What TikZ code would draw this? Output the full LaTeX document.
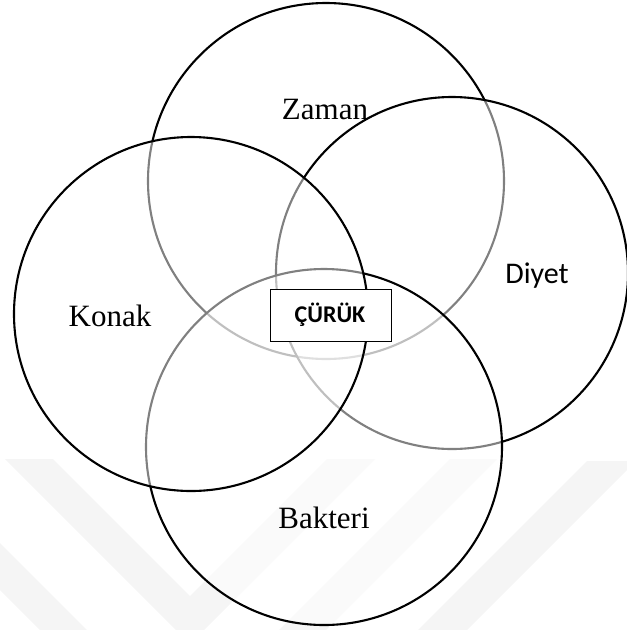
\documentclass[tikz,border=0pt]{standalone}
\usepackage{fontspec}
\setmainfont{Liberation Serif}
\newfontfamily\calibrifont{Carlito}
\begin{document}
\begin{tikzpicture}[x=1pt,y=-1pt,
  venn/.style={circle, draw=black, line width=2.1pt, fill=white, fill opacity=0.5, draw opacity=1, inner sep=0pt, outer sep=0pt},
  seriflabel/.style={font=\fontsize{31}{31}\selectfont, inner sep=0pt, anchor=base},
  sanslabel/.style={font=\calibrifont\fontsize{30}{30}\selectfont, inner sep=0pt, anchor=base},
  centerbox/.style={draw=black, line width=0.8pt, fill=white, minimum width=121pt, minimum height=52pt, inner sep=0pt},
  wm/.style={fill=black!4, draw=none}]
\useasboundingbox (0,0) rectangle (627,630);
% faint watermark
\begin{scope}
\clip (0,0) rectangle (627,630);
\fill[wm] (5,459) -- (53,459) -- (190,596) -- (327,459) -- (375,459) -- (190,644) -- cycle;
\fill[wm] (450,459) -- (497,459) -- (326,630) -- (279,630) -- cycle;
\fill[wm] (587,461) -- (627,461) -- (627,470) -- (467,630) -- (418,630) -- cycle;
\fill[wm] (0,543) -- (87,630) -- (40,630) -- (0,590) -- cycle;
\end{scope}
% circles, bottom to top
\node[venn, minimum size=356pt] (zaman) at (326,181) {};
\node[venn, minimum size=352pt] (diyet) at (452,273) {};
\node[venn, minimum size=356pt] (bakteri) at (324,447) {};
\node[venn, minimum size=354pt] (konak) at (191,314) {};
% labels
\node[seriflabel] (tz) at (325,119) {Zaman};
\node[seriflabel] (tk) at (110,326) {Konak};
\node[seriflabel] (tb) at (324,528) {Bakteri};
\node[sanslabel] (td) at (537,283) {Diyet};
\node[centerbox] (curuk) at (330.5,315) {};
\node[font=\calibrifont\bfseries\fontsize{24}{24}\selectfont, inner sep=0pt, anchor=base] (tc) at (330,322.5) {ÇÜRÜK};
\end{tikzpicture}
\end{document}
